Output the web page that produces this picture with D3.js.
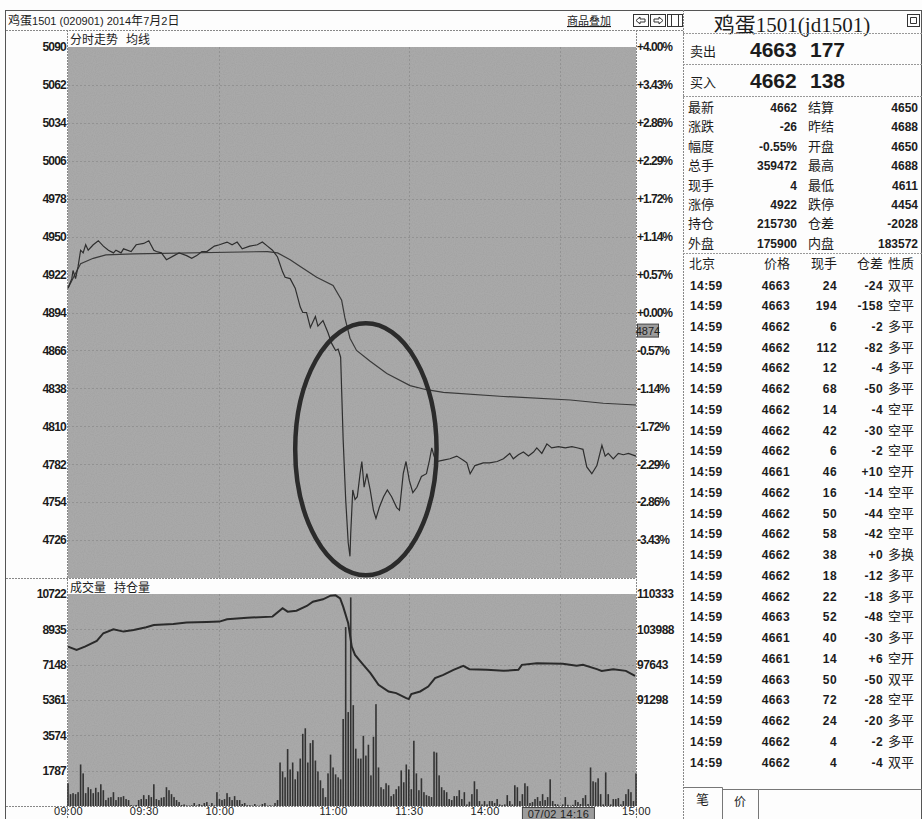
<!DOCTYPE html>
<html>
<head>
<meta charset="utf-8">
<script src="https://cdn.jsdelivr.net/npm/d3@7/dist/d3.min.js"></script>
<style>
  body { margin: 0; background: #fff; }
  svg { display: block; font-family: "Liberation Sans", Arial, sans-serif; }
</style>
</head>
<body>
<svg id="chart"></svg>
<script>
// ---- data ----
// minutes from 09:00 (sessions 9:00-10:15, 10:30-11:30, 13:30-15:00 => 225 min)
const priceTicks = [5090, 5062, 5034, 5006, 4978, 4950, 4922, 4894, 4866, 4838, 4810, 4782, 4754, 4726];
const pctLabels = ['+4.00%', '+3.43%', '+2.86%', '+2.29%', '+1.72%', '+1.14%', '+0.57%', '+0.00%',
  '-0.57%', '-1.14%', '-1.72%', '-2.29%', '-2.86%', '-3.43%'];
const volTicks = [10722, 8935, 7148, 5361, 3574, 1787];
const oiTicks = [110333, 103988, 97643, 91298];
const timeTickMinutes = [0, 30, 60, 105, 135, 165, 225];
const timeTickLabels = ['09:00', '09:30', '10:00', '11:00', '11:30', '14:00', '15:00'];
const gridMinutes = [60, 135, 195];
const cursorMinute = 181;
const cursorLabel = '07/02 14:16';
const cursorPrice = 4874;

const priceLine = [[0,4912],[1.5,4919],[2,4925],[3,4919],[4,4928],[5,4940],[6,4938],[7,4944],[8,4940],
  [10,4944],[12,4947],[14,4943],[16,4940],[18,4938],[19,4940],[21,4938],[22,4941],[25,4939],[27,4944],
  [30,4945],[32,4947],[34,4940],[35,4939],[37,4938],[39,4933],[42,4936],[44,4938],[47,4936],[49,4934],
  [51,4936],[53,4939],[55,4939],[58,4943],[60,4944],[63,4946],[65,4944],[67,4946],[69,4941],[72,4943],
  [75,4944],[77,4946],[79,4943],[81,4940],[83,4935],[85,4924],[86,4920],[88,4919],[90,4912],[92,4898],
  [93,4894],[94.5,4894],[96,4883],[98,4891],[99,4884],[101,4888],[103,4879],[104.5,4871],[106,4866],
  [107,4867],[108,4861],[109,4800],[110,4756],[111,4724],[111.7,4714],[112,4731],[112.8,4763],
  [113.7,4756],[114.6,4758],[115.7,4775],[116.4,4784],[117.3,4765],[118.4,4775],[119.7,4763],[121,4748],
  [122,4742],[123.3,4750],[125,4758],[126.5,4763],[128.2,4758],[130.2,4750],[131.3,4748],[132.8,4775],
  [133.9,4784],[135.2,4770],[136.6,4761],[138.2,4765],[140,4773],[142,4775],[143.2,4785],[144.1,4794],
  [145,4788],[146,4784],[148.7,4785],[151.3,4786],[154,4788],[156.6,4785],[158,4783],[159.3,4775],
  [161.2,4781],[164.5,4783],[167,4783],[170,4784],[172.5,4786],[175,4790],[176.4,4786],[178.4,4789],
  [180.4,4791],[182.4,4788],[184.4,4791],[185.7,4794],[187.7,4790],[189.7,4797],[191.6,4794],[194.3,4795],
  [197,4794],[199.6,4795],[202,4794],[204,4793],[205.5,4780],[207.5,4775],[209.5,4781],[211.5,4796],
  [212.8,4788],[214,4790],[216,4786],[218,4790],[220,4789],[222,4790],[225,4788]];

const avgLine = [[0,4912],[3,4923],[5,4930],[10,4934],[15,4936.5],[26,4937.3],[79,4939],[83,4938],
  [88,4933],[92,4928],[98.5,4920],[105,4914],[108.4,4903],[109.7,4890],[111.7,4875],[114.3,4866],
  [119.7,4858],[126.3,4849],[135.5,4840],[142,4837],[148.7,4835],[172.5,4832],[199,4829.4],[212,4827],
  [225,4825.7]];

const oiLine = [[0,100890],[3.4,100300],[6.7,100890],[11.4,101910],[14,103290],[18,104000],[22,103580],
  [26,103880],[31,104360],[34,104780],[41.7,104960],[47,105200],[55,105320],[60,105380],[63,105800],
  [71,106080],[81,106270],[85,107770],[87,107160],[90.5,107340],[94.6,108180],[97,108950],[101,109380],
  [104,110030],[106,110100],[107.8,109560],[109,108060],[111,105080],[112.4,100890],[113.7,99400],
  [117,97610],[119.8,96120],[123,94030],[127,92830],[130,92540],[134,91640],[135,91460],[136,92360],
  [139.5,92830],[142.7,93720],[145.4,95220],[148.7,95820],[152.7,96710],[156.6,97430],[159,96840],
  [165.9,96710],[172.5,96530],[178.4,96710],[179.8,97610],[185.7,97910],[196,97790],[201.5,97430],
  [204,97610],[209.5,96840],[211.4,96530],[216,96840],[221,96530],[224.6,95640]];

// one bar per minute, 09:00 .. 15:00
const volume = [1150,600,650,600,700,2100,1650,650,950,850,
  650,920,700,1100,800,300,420,450,700,300,
  450,450,500,350,300,50,20,50,300,350,
  550,350,550,450,1100,350,300,420,450,950,
  800,600,450,300,200,50,80,30,20,40,
  150,30,100,40,150,200,30,150,30,700,
  350,300,350,650,450,300,500,300,300,100,
  150,40,40,20,100,20,20,100,150,20,
  40,20,150,300,2200,1750,1450,2880,1850,2200,
  1350,1750,2400,3650,3930,2200,3180,3330,2300,1750,
  1300,900,450,1650,
  2600,1950,1600,1450,1350,4400,9050,4750,10550,5100,
  2900,2400,2400,3550,2550,3100,1550,3500,5150,1950,
  950,850,1150,1050,500,600,850,1000,1800,1200,
  2100,1850,850,3300,1650,800,1400,700,550,500,
  450,2750,2700,1550,950,800,700,350,300,500,
  500,800,350,700,80,220,600,1250,850,250,
  80,250,80,250,250,150,350,80,40,80,
  550,250,80,1050,950,250,600,1150,1000,150,
  200,350,450,250,600,300,450,1350,250,100,
  80,20,80,450,60,20,60,300,200,100,
  400,550,100,1950,1250,1200,1400,600,80,1700,
  600,80,350,350,400,80,250,600,850,700,
  250,1650];

// circled area: centre [minute, price], half width in minutes, half height in price
const ringCenter = [118, 4793];
const ringHalf = [28, 93];

// quote panel
const panelTitle = '鸡蛋1501(jd1501)';
const askQuote = ['卖出', '4663', '177'];
const bidQuote = ['买入', '4662', '138'];
const quoteRows = [
  ['最新', '4662', '结算', '4650'],
  ['涨跌', '-26', '昨结', '4688'],
  ['幅度', '-0.55%', '开盘', '4650'],
  ['总手', '359472', '最高', '4688'],
  ['现手', '4', '最低', '4611'],
  ['涨停', '4922', '跌停', '4454'],
  ['持仓', '215730', '仓差', '-2028'],
  ['外盘', '175900', '内盘', '183572'],
];
const tradeHeader = ['北京', '价格', '现手', '仓差', '性质'];
const tradeTime = '14:59';
const tradePrice = [4663,4663,4662,4662,4662,4662,4662,4662,4662,4661,4662,4662,
  4662,4662,4662,4662,4663,4661,4661,4663,4663,4662,4662,4662];
const tradeVol = [24,194,6,112,12,68,14,42,6,46,16,50,58,38,18,22,52,40,14,50,72,24,4,4];
const tradeOi = ['-24','-158','-2','-82','-4','-50','-4','-30','-2','+10','-14','-44',
  '-42','+0','-12','-18','-48','-30','+6','-50','-28','-20','-2','-4'];
const tradeKind = ['双平','空平','多平','多平','多平','多平','空平','空平','空平','空开','空平','空平',
  '空平','多换','多平','多平','空平','多平','空开','双平','空平','多平','多平','双平'];

// ---- layout ----
const W = 922;
const H = 819;
const plotL = 68;
const plotR = 636;
const priceTop = 47;
const priceBot = 578;
const volTop = 594;
const volBot = 806;
const panelL = 683;
const CN = '"Noto Sans CJK SC", "Liberation Sans", sans-serif';
const INK = '#1c1c1c';
const PLOT_BG = '#a9a9a9';

const svg = d3.select('#chart').attr('width', W).attr('height', H);
svg.append('rect').attr('width', W).attr('height', H).attr('fill', '#fdfdfd');

// speckle like the scanned original
const defs = svg.append('defs');
const noise = defs.append('filter').attr('id', 'grain').attr('x', 0).attr('y', 0)
  .attr('width', 1).attr('height', 1);
noise.append('feTurbulence').attr('type', 'fractalNoise').attr('baseFrequency', 0.9)
  .attr('numOctaves', 1).attr('seed', 3).attr('result', 't');
noise.append('feColorMatrix').attr('in', 't').attr('type', 'matrix')
  .attr('values', '0 0 0 0 0.25  0 0 0 0 0.25  0 0 0 0 0.25  1.2 0 0 0 -0.45');

const x = d3.scaleLinear().domain([0, 225]).range([plotL, plotR]);
const yPrice = d3.scaleLinear().domain([4698, 5090]).range([priceBot, priceTop]);
const yVol = d3.scaleLinear().domain([0, 10722]).range([volBot, volTop]);
const yOi = d3.scaleLinear().domain([110333 - 6 * 6345, 110333]).range([volBot, volTop]);

// frame and separators
const frame = svg.append('g').attr('stroke', '#555').attr('fill', 'none');
frame.append('rect').attr('x', 5.5).attr('y', 10.5).attr('width', W - 6).attr('height', H);
const dashed = (x1, y1, x2, y2) => frame.append('line')
  .attr('x1', x1).attr('y1', y1).attr('x2', x2).attr('y2', y2)
  .attr('stroke', '#888').attr('stroke-dasharray', '2,1');
dashed(6, 30.5, panelL, 30.5);
dashed(panelL + 0.5, 10, panelL + 0.5, H);
dashed(plotR + 0.5, 30, plotR + 0.5, H);
dashed(6, priceBot + 0.5, plotR, priceBot + 0.5);
dashed(6, volBot + 0.5, plotR, volBot + 0.5);
dashed(plotL - 0.5, 30, plotL - 0.5, H);

// plot backgrounds
[[priceTop, priceBot], [volTop, volBot]].forEach(([t, b]) => {
  svg.append('rect').attr('x', plotL).attr('y', t).attr('width', plotR - plotL)
    .attr('height', b - t).attr('fill', PLOT_BG);
  svg.append('rect').attr('x', plotL).attr('y', t).attr('width', plotR - plotL)
    .attr('height', b - t).attr('filter', 'url(#grain)').attr('opacity', 0.35);
});

// grid
const grid = svg.append('g').attr('stroke', '#929292').attr('stroke-dasharray', '2,2');
grid.selectAll('line.hp').data(priceTicks.slice(1)).join('line')
  .attr('x1', plotL).attr('x2', plotR)
  .attr('y1', d => Math.round(yPrice(d)) + 0.5).attr('y2', d => Math.round(yPrice(d)) + 0.5);
grid.selectAll('line.hv').data(volTicks.slice(1)).join('line')
  .attr('x1', plotL).attr('x2', plotR)
  .attr('y1', d => Math.round(yVol(d)) + 0.5).attr('y2', d => Math.round(yVol(d)) + 0.5);
gridMinutes.forEach(m => {
  const gx = Math.round(x(m)) + 0.5;
  grid.append('line').attr('x1', gx).attr('x2', gx).attr('y1', priceTop).attr('y2', priceBot);
  grid.append('line').attr('x1', gx).attr('x2', gx).attr('y1', volTop).attr('y2', volBot);
});

// axes
function styleAxis(g, opts) {
  g.select('.domain').remove();
  g.selectAll('text')
    .attr('fill', INK)
    .style('font-family', '"Liberation Sans", Arial, sans-serif')
    .style('font-size', opts.size || '12px')
    .style('font-weight', opts.weight || 'bold')
    .style('letter-spacing', opts.spacing || '-0.8px');
}
styleAxis(svg.append('g').attr('transform', 'translate(66,0)')
  .call(d3.axisLeft(yPrice).tickValues(priceTicks).tickSize(0).tickPadding(0).tickFormat(d3.format('d'))), {});
styleAxis(svg.append('g').attr('transform', `translate(${plotR + 1},0)`)
  .call(d3.axisRight(yPrice).tickValues(priceTicks).tickSize(0).tickPadding(0)
    .tickFormat((d, i) => pctLabels[i])), { spacing: '-1px' });
styleAxis(svg.append('g').attr('transform', 'translate(66,0)')
  .call(d3.axisLeft(yVol).tickValues(volTicks).tickSize(0).tickPadding(0).tickFormat(d3.format('d'))), {});
styleAxis(svg.append('g').attr('transform', `translate(${plotR + 1},0)`)
  .call(d3.axisRight(yOi).tickValues(oiTicks).tickSize(0).tickPadding(0).tickFormat(d3.format('d'))),
  { spacing: '-0.5px' });
styleAxis(svg.append('g').attr('transform', `translate(0,${volBot})`)
  .call(d3.axisBottom(x).tickValues(timeTickMinutes).tickSize(0).tickPadding(1)
    .tickFormat((d, i) => timeTickLabels[i])),
  { size: '11px', weight: 'normal', spacing: '0.3px' });

// volume bars
svg.append('g').selectAll('rect').data(volume).join('rect')
  .attr('x', (d, i) => x(i) - 0.8)
  .attr('width', 1.6)
  .attr('y', d => yVol(d))
  .attr('height', d => volBot - yVol(d))
  .attr('fill', '#333');

// lines
const priceGen = d3.line().x(d => x(d[0])).y(d => yPrice(d[1]));
svg.append('path').datum(avgLine).attr('d', priceGen)
  .attr('fill', 'none').attr('stroke', '#3a3a3a').attr('stroke-width', 1.2);
svg.append('path').datum(priceLine).attr('d', priceGen)
  .attr('fill', 'none').attr('stroke', '#2e2e2e').attr('stroke-width', 1.2);
svg.append('path').datum(oiLine)
  .attr('d', d3.line().x(d => x(d[0])).y(d => yOi(d[1])))
  .attr('fill', 'none').attr('stroke', '#2a2a2a').attr('stroke-width', 2);

// circled annotation
svg.append('ellipse')
  .attr('cx', x(ringCenter[0])).attr('cy', yPrice(ringCenter[1]))
  .attr('rx', x(ringCenter[0] + ringHalf[0]) - x(ringCenter[0]))
  .attr('ry', yPrice(ringCenter[1] - ringHalf[1]) - yPrice(ringCenter[1]))
  .attr('fill', 'none').attr('stroke', '#2b2b2b').attr('stroke-width', 4.5);

// cursor boxes
const cy = yPrice(cursorPrice) - 9;
svg.append('rect').attr('x', plotR + 1.5).attr('y', cy - 6.5).attr('width', 21).attr('height', 13)
  .attr('fill', '#9c9c9c').attr('stroke', '#444');
svg.append('text').attr('x', plotR + 12).attr('y', cy + 4).attr('text-anchor', 'middle')
  .style('font-size', '11px').attr('fill', '#222').text(cursorPrice);
const cx = x(cursorMinute);
svg.append('rect').attr('x', cx - 2.5).attr('y', volBot + 1.5).attr('width', 72).attr('height', 15)
  .attr('fill', '#9c9c9c').attr('stroke', '#444');
svg.append('text').attr('x', cx + 33.5).attr('y', volBot + 11.5).attr('text-anchor', 'middle')
  .style('font-size', '11px').style('letter-spacing', '0.3px').attr('fill', '#222').text(cursorLabel);

// header texts
const head = svg.append('g').attr('fill', INK);
const cnSpan = t => `<tspan style="font-family:'Noto Sans CJK SC';font-size:12px">${t}</tspan>`;
head.append('text').attr('x', 8).attr('y', 25).style('font-size', '11px')
  .html(`${cnSpan('鸡蛋')}1501 (020901) 2014${cnSpan('年')}7${cnSpan('月')}2${cnSpan('日')}`);
head.append('text').attr('x', 70).attr('y', 44).style('font-family', CN).style('font-size', '12px')
  .attr('xml:space', 'preserve').text('分时走势   均线');
head.append('text').attr('x', 70).attr('y', 592).style('font-family', CN).style('font-size', '12px')
  .attr('xml:space', 'preserve').text('成交量   持仓量');
head.append('text').attr('x', 567).attr('y', 25).style('font-family', CN).style('font-size', '11px')
  .attr('text-decoration', 'underline').text('商品叠加');

// small toolbar icons
const icons = svg.append('g').attr('fill', 'none').attr('stroke', '#333');
[633, 650, 667].forEach((ix, i) => {
  icons.append('rect').attr('x', ix + 0.5).attr('y', 14.5).attr('width', 15).attr('height', 12);
  if (i === 0) icons.append('path').attr('d', `M${ix + 3},20.5 l4,-3.5 v2 h5 v3 h-5 v2 z`);
  if (i === 1) icons.append('path').attr('d', `M${ix + 13},20.5 l-4,-3.5 v2 h-5 v3 h5 v2 z`);
  if (i === 2) icons.append('path').attr('d', `M${ix + 4.5},15 v11 M${ix + 11.5},15 v11`);
});
icons.append('rect').attr('x', 907.5).attr('y', 14.5).attr('width', 12).attr('height', 12);
icons.append('path').attr('d', 'M910.5,17.5 h6 v6 h-6 z');

// ---- quote panel ----
const panel = svg.append('g').attr('fill', INK);
panel.append('text').attr('x', 792).attr('y', 32).attr('text-anchor', 'middle')
  .style('font-family', '"Liberation Serif", "Noto Sans CJK SC", serif').style('font-size', '21px')
  .text(panelTitle);
const pdash = yy => panel.append('line').attr('x1', panelL).attr('x2', W).attr('y1', yy).attr('y2', yy)
  .attr('stroke', '#999').attr('stroke-dasharray', '2,1');
pdash(33.5);
pdash(64.5);
pdash(96.5);
pdash(253.5);

[[askQuote, 57], [bidQuote, 88]].forEach(([q, by]) => {
  panel.append('text').attr('x', 690).attr('y', by - 1).style('font-family', CN).style('font-size', '13px').text(q[0]);
  panel.append('text').attr('x', 750).attr('y', by).style('font-size', '21px').style('font-weight', 'bold').text(q[1]);
  panel.append('text').attr('x', 810).attr('y', by).style('font-size', '21px').style('font-weight', 'bold').text(q[2]);
});

quoteRows.forEach((r, i) => {
  const by = 112 + i * 19.4;
  panel.append('text').attr('x', 688).attr('y', by).style('font-family', CN).style('font-size', '13px').text(r[0]);
  panel.append('text').attr('x', 797).attr('y', by).attr('text-anchor', 'end')
    .style('font-size', '12px').style('font-weight', 'bold').text(r[1]);
  panel.append('text').attr('x', 808).attr('y', by).style('font-family', CN).style('font-size', '13px').text(r[2]);
  panel.append('text').attr('x', 918).attr('y', by).attr('text-anchor', 'end')
    .style('font-size', '12px').style('font-weight', 'bold').text(r[3]);
});

const colRight = [null, 790, 837, 883];
panel.append('text').attr('x', 689).attr('y', 268).style('font-family', CN).style('font-size', '13px').text(tradeHeader[0]);
[1, 2, 3].forEach(c => {
  panel.append('text').attr('x', colRight[c]).attr('y', 268).attr('text-anchor', 'end')
    .style('font-family', CN).style('font-size', '13px').text(tradeHeader[c]);
});
panel.append('text').attr('x', 888).attr('y', 268).style('font-family', CN).style('font-size', '13px').text(tradeHeader[4]);

tradePrice.forEach((p, i) => {
  const by = 289.5 + i * 20.74;
  const num = s => s.style('font-size', '12px').style('font-weight', 'bold').style('letter-spacing', '0.4px');
  num(panel.append('text').attr('x', 690).attr('y', by).text(tradeTime));
  num(panel.append('text').attr('x', colRight[1]).attr('y', by).attr('text-anchor', 'end').text(p));
  num(panel.append('text').attr('x', colRight[2]).attr('y', by).attr('text-anchor', 'end').text(tradeVol[i]));
  num(panel.append('text').attr('x', colRight[3]).attr('y', by).attr('text-anchor', 'end').text(tradeOi[i]));
  panel.append('text').attr('x', 888).attr('y', by).style('font-family', CN).style('font-size', '13px').text(tradeKind[i]);
});

// bottom tabs
const tabs = svg.append('g').attr('stroke', '#777').attr('fill', 'none');
tabs.append('path').attr('d', `M${panelL},787.5 H722.5 V819 M722.5,789.5 H758.5 V819 M758.5,789.5 H${W}`);
panel.append('text').attr('x', 696).attr('y', 804).style('font-family', CN).style('font-size', '13px').text('笔');
panel.append('text').attr('x', 734).attr('y', 806).style('font-family', CN).style('font-size', '12px').text('价');
</script>
</body>
</html>
